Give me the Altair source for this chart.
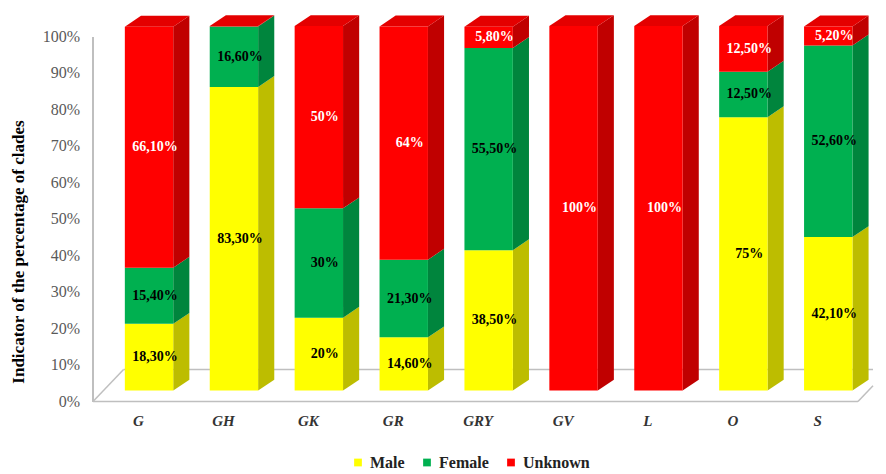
import json
import altair as alt
import pandas as pd

# ---------------- data ----------------
categories = ["G", "GH", "GK", "GR", "GRY", "GV", "L", "O", "S"]
male = [18.3, 83.3, 20, 14.6, 38.5, 0, 0, 75, 42.1]
female = [15.4, 16.6, 30, 21.3, 55.5, 0, 0, 12.5, 52.6]
unknown = [66.1, 0.1, 50, 64, 5.8, 100, 100, 12.5, 5.2]
series = ["Male", "Female", "Unknown"]
y_ticks = [0, 10, 20, 30, 40, 50, 60, 70, 80, 90, 100]

# ---------------- styles ----------------
front_colors = ["#FFFF00", "#00B050", "#FF0000"]
side_colors = ["#BDBD00", "#00853D", "#C00000"]
top_colors = ["#E6E600", "#009C48", "#E40000"]
label_colors = ["#000000", "#000000", "#FFFFFF"]
FONT = "Liberation Serif"

HALF = 0.285   # half of the bar front width (category units)
DX = 0.19      # 3D depth in x (category units)
LIFT = 3.0     # front face lifted above floor (percent units)
DY = 3.0       # 3D depth in y (percent units)
X_MIN, X_MAX = -0.66, 8.527
Y_MAX = 107


def fmt(v):
    if float(v).is_integer():
        return f"{int(v)}%"
    return f"{v:.2f}".replace(".", ",") + "%"


front, faces, labels = [], [], []
for i, c in enumerate(categories):
    lo = 0.0
    vals = [male[i], female[i], unknown[i]]
    top_k = None
    for k, (s, v) in enumerate(zip(series, vals)):
        if v <= 0:
            continue
        hi = lo + v
        front.append(dict(cat=c, series=s, x=i - HALF, x2=i + HALF,
                          y=lo + LIFT, y2=hi + LIFT))
        fid = f"side-{c}-{s}"
        faces.append(dict(fid=fid, x=i + HALF, y=lo + LIFT, y2=hi + LIFT, fill=side_colors[k]))
        faces.append(dict(fid=fid, x=i + HALF + DX, y=lo + LIFT + DY, y2=hi + LIFT + DY, fill=side_colors[k]))
        if v >= 1:
            labels.append(dict(x=i + 0.07, y=(lo + hi) / 2 + LIFT, text=fmt(v), col=label_colors[k]))
        lo = hi
        top_k = k
    t = lo + LIFT
    fid = f"top-{c}"
    col = top_colors[top_k]
    faces.append(dict(fid=fid, x=i - HALF, y=t, y2=t, fill=col))
    faces.append(dict(fid=fid, x=i - HALF + DX, y=t, y2=t + DY, fill=col))
    faces.append(dict(fid=fid, x=i + HALF, y=t, y2=t + DY, fill=col))
    faces.append(dict(fid=fid, x=i + HALF + DX, y=t + DY, y2=t + DY, fill=col))

front_df = pd.DataFrame(front)
faces_df = pd.DataFrame(faces)
labels_df = pd.DataFrame(labels)
ticks_df = pd.DataFrame({"v": y_ticks, "lab": [f"{v}%" for v in y_ticks]})

# floor outline (decoration)
FD_X, FD_Y = 0.36, 8.8
right_front = len(categories) - 1 + 0.35
floor_df = pd.DataFrame([
    dict(seg="front", x=X_MIN, y=0), dict(seg="front", x=right_front, y=0),
    dict(seg="left", x=X_MIN, y=0), dict(seg="left", x=X_MIN + FD_X, y=FD_Y),
    dict(seg="back", x=X_MIN + FD_X, y=FD_Y), dict(seg="back", x=X_MAX, y=FD_Y),
    dict(seg="right", x=right_front, y=0),
    dict(seg="right", x=X_MAX, y=(X_MAX - right_front) / FD_X * FD_Y),
])

xscale = alt.Scale(domain=[X_MIN, X_MAX], nice=False, zero=False)
yscale = alt.Scale(domain=[0, Y_MAX], nice=False, zero=False)

label_expr = json.dumps(categories) + "[datum.value]"

x_axis = alt.Axis(values=list(range(len(categories))), labelExpr=label_expr,
                  grid=False, ticks=False, domain=False, title=None,
                  labelFont=FONT, labelFontSize=15, labelFontStyle="italic",
                  labelFontWeight="bold", labelColor="#333333",
                  labelPadding=12, labelOffset=-11)
# y axis keeps only the title; tick labels are drawn as a text layer
y_axis = alt.Axis(labels=False, grid=False, ticks=False, domain=False,
                  title="Indicator of the percentage of clades",
                  titleFont=FONT, titleFontSize=17, titleFontWeight="bold",
                  titleColor="#000000", titleAngle=270, titleX=-75, titleY=240,
                  titleAlign="center", titleBaseline="middle")


def X(field):
    return alt.X(field, scale=xscale, axis=x_axis)


def Y(field):
    return alt.Y(field, scale=yscale, axis=y_axis)


floor = alt.Chart(floor_df).mark_line(color="#BFBFBF", strokeWidth=1.5).encode(
    x=X("x:Q"),
    y=Y("y:Q"),
    detail="seg:N",
)

yline = alt.Chart(floor_df).mark_rule(color="#BFBFBF", strokeWidth=1.5).encode(
    x=alt.value(0),
    y=alt.datum(0),
    y2=alt.datum(100),
)

tick_labels = alt.Chart(ticks_df).mark_text(
    font=FONT, fontSize=16, color="#595959", align="right", baseline="middle", dx=-13
).encode(
    x=alt.value(0),
    y=Y("v:Q"),
    text="lab:N",
)

faces_layer = alt.Chart(faces_df).mark_area(orient="vertical", strokeWidth=0).encode(
    x=X("x:Q"),
    y=Y("y:Q"),
    y2="y2:Q",
    detail="fid:N",
    color=alt.Color("fill:N", scale=None),
)

front_layer = alt.Chart(front_df).mark_rect(strokeWidth=0).encode(
    x=X("x:Q"),
    x2="x2:Q",
    y=Y("y:Q"),
    y2="y2:Q",
    color=alt.Color("series:N",
                    scale=alt.Scale(domain=series, range=front_colors),
                    legend=alt.Legend(title=None, orient="none", direction="horizontal",
                                      legendX=257, legendY=443,
                                      symbolType="square", symbolSize=60,
                                      labelFont=FONT, labelFontSize=16,
                                      labelFontWeight="bold", labelColor="#222222",
                                      columnPadding=14, symbolStrokeWidth=0)),
)

text_layer = alt.Chart(labels_df).mark_text(font=FONT, fontSize=14, fontWeight="bold",
                                             baseline="middle", align="center").encode(
    x=X("x:Q"),
    y=Y("y:Q"),
    text="text:N",
    color=alt.Color("col:N", scale=None),
)

chart = alt.layer(floor, yline, tick_labels, faces_layer, front_layer, text_layer).properties(
    width=780,
    height=390,
    autosize=alt.AutoSizeParams(type="none"),
    padding={"left": 85, "top": 3.5, "right": 5, "bottom": 70},
).configure_view(stroke=None, clip=False).configure_legend(
    labelFont=FONT, labelFontWeight="bold", labelFontSize=16
)

chart.save("out.html", embed_options={"renderer": "svg", "actions": False})
